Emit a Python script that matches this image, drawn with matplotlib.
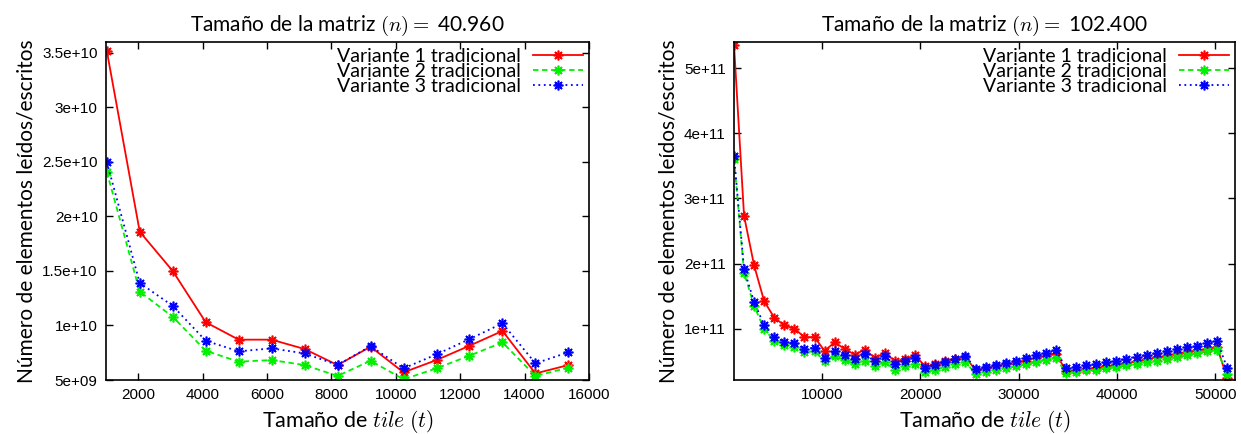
import numpy as np
import matplotlib
matplotlib.use("Agg")
import matplotlib.pyplot as plt

plt.rcParams['mathtext.fontset'] = 'cm'
plt.rcParams['font.family'] = ['Lato', 'DejaVu Sans']

# --------------------------
# Data, n = 40.960 (left)
# --------------------------
tile_a = [1024, 2048, 3072, 4096, 5120, 6144, 7168, 8192, 9216, 10240,
          11264, 12288, 13312, 14336, 15360]
v1_a = [3.52e10, 1.86e10, 1.50e10, 1.03e10, 8.7e9, 8.7e9, 7.84e9, 6.37e9,
        8.05e9, 5.7e9, 6.83e9, 8.14e9, 9.5e9, 5.6e9, 6.37e9]
v2_a = [2.41e10, 1.31e10, 1.08e10, 7.68e9, 6.68e9, 6.83e9, 6.37e9, 5.37e9,
        6.77e9, 5.06e9, 6.07e9, 7.23e9, 8.45e9, 5.37e9, 6.13e9]
v3_a = [2.50e10, 1.39e10, 1.18e10, 8.6e9, 7.63e9, 7.9e9, 7.44e9, 6.37e9,
        8.11e9, 6.07e9, 7.35e9, 8.75e9, 1.02e10, 6.53e9, 7.54e9]

# --------------------------
# Data, n = 102.400 (right), values in units of 1e10
# --------------------------
tile_b = [1024 * k for k in range(1, 51)]
v1_b = [53.6, 27.3, 19.7, 14.2, 11.7, 10.5, 10.0, 8.7, 8.7, 6.6,
        7.9, 6.9, 6.0, 6.8, 5.5, 6.3, 5.0, 5.3, 5.9, 4.2,
        4.5, 5.0, 5.4, 5.7, 3.6, 3.9, 4.2, 4.5, 4.8, 5.1,
        5.5, 5.8, 6.15, 3.5, 3.6, 3.85, 4.0, 4.2, 4.5, 4.7,
        5.0, 5.3, 5.6, 5.85, 6.15, 6.4, 6.65, 6.9, 7.2, 2.4]
v2_b = [36.0, 18.6, 13.5, 9.9, 8.15, 7.5, 7.2, 6.4, 6.55, 5.0,
        5.75, 5.2, 4.55, 5.1, 4.2, 4.85, 3.7, 4.2, 4.6, 3.3,
        3.7, 4.1, 4.5, 4.85, 3.1, 3.3, 3.6, 3.95, 4.2, 4.5,
        4.85, 5.2, 5.5, 3.15, 3.3, 3.6, 3.7, 4.0, 4.1, 4.35,
        4.6, 4.85, 5.1, 5.4, 5.6, 5.9, 6.25, 6.5, 6.65, 3.1]
v3_b = [36.5, 19.1, 14.1, 10.5, 8.7, 8.0, 7.75, 6.9, 7.1, 5.5,
        6.55, 5.9, 5.3, 6.05, 5.0, 5.75, 4.5, 5.0, 5.55, 4.0,
        4.35, 4.85, 5.3, 5.85, 3.85, 4.1, 4.45, 4.75, 5.1, 5.5,
        5.9, 6.25, 6.65, 3.95, 4.1, 4.35, 4.5, 4.85, 5.1, 5.4,
        5.7, 5.95, 6.25, 6.55, 6.85, 7.15, 7.4, 7.8, 8.1, 4.0]
v1_b = np.array(v1_b) * 1e10
v2_b = np.array(v2_b) * 1e10
v3_b = np.array(v3_b) * 1e10

yticks_a = [5e9, 1e10, 1.5e10, 2e10, 2.5e10, 3e10, 3.5e10]
ylabels_a = ['5e+09', '1e+10', '1.5e+10', '2e+10', '2.5e+10', '3e+10', '3.5e+10']
xticks_a = [2000, 4000, 6000, 8000, 10000, 12000, 14000, 16000]
yticks_b = [1e11, 2e11, 3e11, 4e11, 5e11]
ylabels_b = ['1e+11', '2e+11', '3e+11', '4e+11', '5e+11']
xticks_b = [10000, 20000, 30000, 40000, 50000]

labels = ['Variante 1 tradicional', 'Variante 2 tradicional', 'Variante 3 tradicional']
titles = [r'Tamaño de la matriz $(n) =$ 40.960', r'Tamaño de la matriz $(n) =$ 102.400']

# --------------------------
# Plotting
# --------------------------
fig = plt.figure(figsize=(12.41, 4.34), dpi=100)
ax1 = fig.add_axes([106 / 1241, 1 - 380 / 434, 483 / 1241, 338 / 434])
ax2 = fig.add_axes([734 / 1241, 1 - 380 / 434, 501 / 1241, 338 / 434])

star = (8, 2, 0)
styles = [dict(color='#ff0000', linestyle='-'),
          dict(color='#00f000', linestyle=(0, (3, 2))),
          dict(color='#0000ff', linestyle=(0, (1, 2)))]

def draw(ax, x, ys, xticks, yticks, ylabels, title):
    for y, st, lab in zip(ys, styles, labels):
        ax.plot(x, y, marker=star, markersize=7, markeredgewidth=1.2,
                linewidth=1.3, label=lab, **st)
    ax.set_xticks(xticks)
    ax.set_xticklabels([str(t) for t in xticks], family='Liberation Sans', fontsize=11)
    ax.set_yticks(yticks)
    ax.set_yticklabels(ylabels, family='Liberation Sans', fontsize=11)
    ax.tick_params(direction='in', top=True, right=True, length=5, width=1, pad=6)
    for s in ax.spines.values():
        s.set_linewidth(1.2)
    ax.set_title(title, fontsize=15, pad=8)
    ax.set_xlabel(r'Tamaño de $\mathit{tile}$ $(t)$', fontsize=15.5, labelpad=4)
    ax.set_ylabel('Número de elementos leídos/escritos', fontsize=15)
    ax.legend(loc='upper right', frameon=False, markerfirst=False, fontsize=14,
              handlelength=2.6, labelspacing=-0.1, borderaxespad=0.1,
              handletextpad=0.6, borderpad=0.2)

draw(ax1, tile_a, [v1_a, v2_a, v3_a], xticks_a, yticks_a, ylabels_a, titles[0])
ax1.set_xlim(1000, 16000)
ax1.set_ylim(5e9, 3.6e10)

draw(ax2, tile_b, [v1_b, v2_b, v3_b], xticks_b, yticks_b, ylabels_b, titles[1])
ax2.set_xlim(1024, 52000)
ax2.set_ylim(2.12e10, 5.4e11)

fig.savefig('out.png', dpi=100)
